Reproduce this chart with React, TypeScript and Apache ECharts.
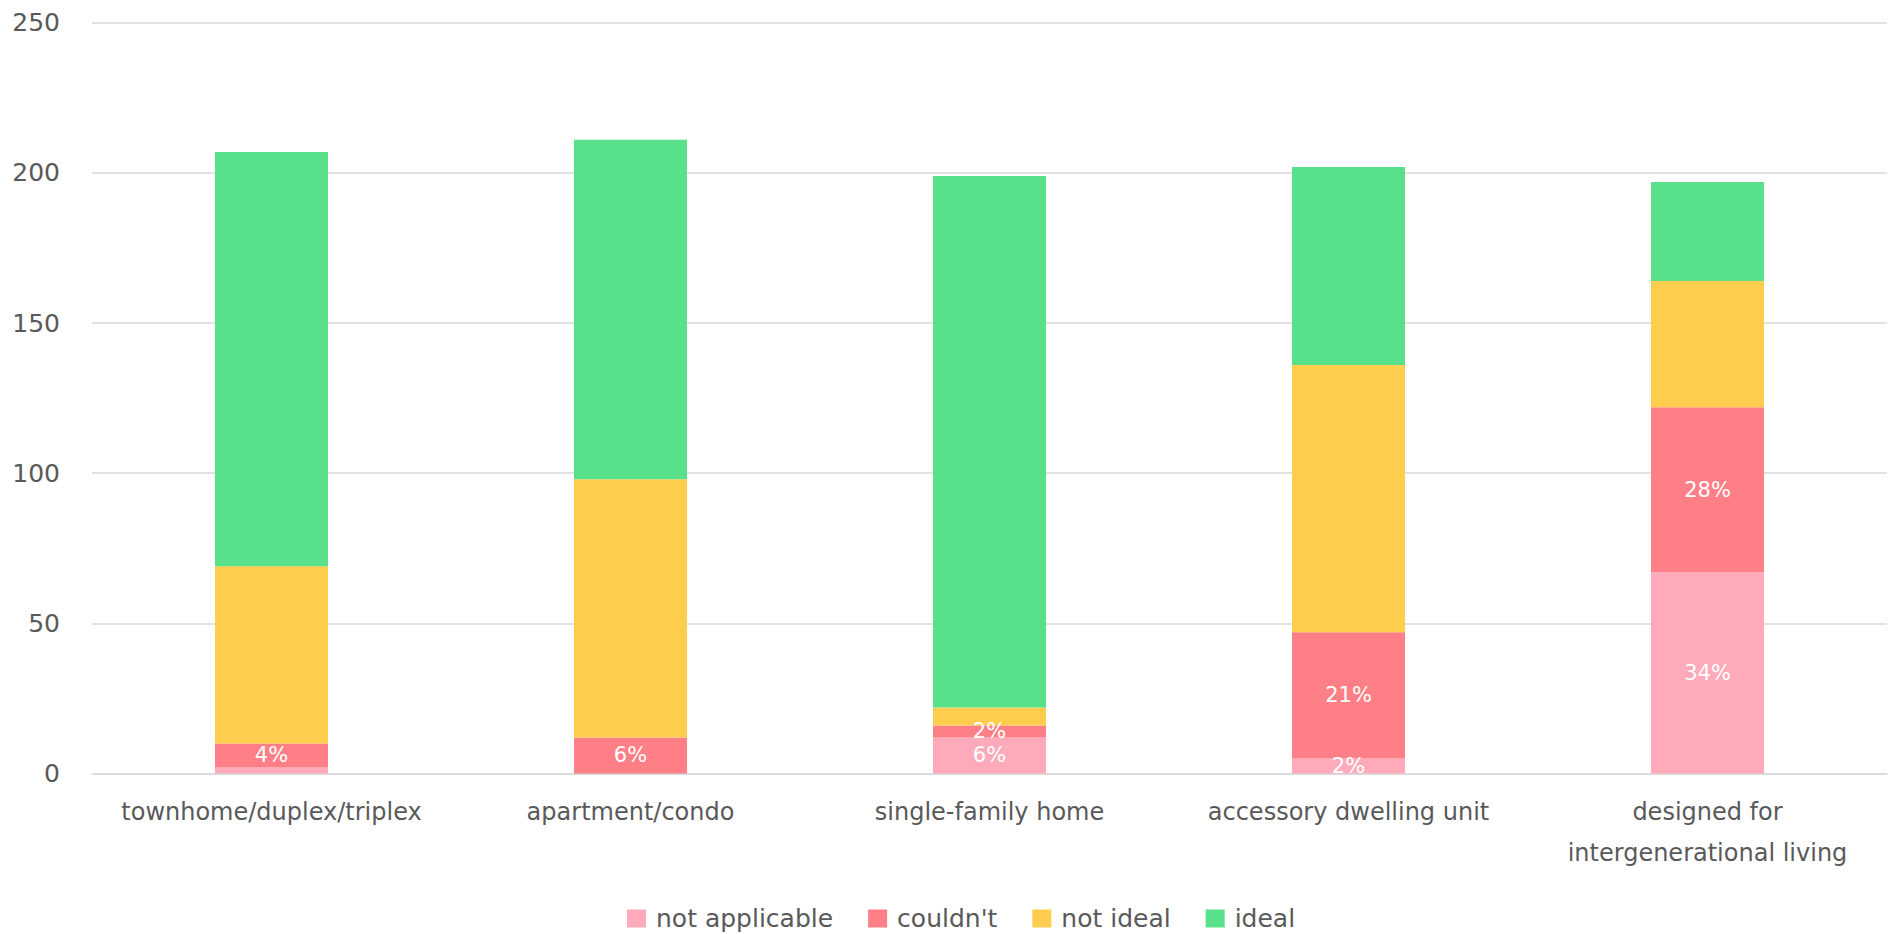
import React, { useEffect, useRef } from "react";
import * as echarts from "echarts";

const categories = [
  "townhome/duplex/triplex",
  "apartment/condo",
  "single-family home",
  "accessory dwelling unit",
  "designed for\nintergenerational living",
];
const seriesNames = ["not applicable", "couldn't", "not ideal", "ideal"];
const notApplicable = [2, 0, 12, 5, 67];
const couldnt = [8, 12, 4, 42, 55];
const notIdeal = [59, 86, 6, 89, 42];
const ideal = [138, 113, 177, 66, 33];
const notApplicableLabels = ["", "", "6%", "2%", "34%"];
const couldntLabels = ["4%", "6%", "2%", "21%", "28%"];
const yTicks = { min: 0, max: 250, interval: 50 };

const colors = ["#FFAABB", "#FF7F86", "#FFCD4E", "#59E08A"];
const FONT = "DejaVu Sans";
const TEXT = "#595959";

export default function App() {
  const ref = useRef<HTMLDivElement>(null);
  useEffect(() => {
    if (!ref.current) return;
    const chart = echarts.init(ref.current, null, { renderer: "svg" });
    const values = [notApplicable, couldnt, notIdeal, ideal];
    const labels: (string[] | null)[] = [notApplicableLabels, couldntLabels, null, null];
    chart.setOption({
      animation: false,
      color: colors,
      textStyle: { fontFamily: FONT },
      grid: { left: 92, right: 5, top: 22.75, bottom: 160.5, containLabel: false },
      legend: {
        data: seriesNames,
        left: 622,
        top: 901,
        padding: 5,
        itemWidth: 19,
        itemHeight: 18,
        itemGap: 35,
        icon: "rect",
        textStyle: { fontFamily: FONT, fontSize: 25, color: TEXT, lineHeight: 24, padding: [0, 0, 0, 5] },
      },
      xAxis: {
        type: "category",
        data: categories,
        axisTick: { show: false },
        axisLine: { lineStyle: { color: "#D9D9D9", width: 1.5 } },
        axisLabel: {
          color: TEXT,
          fontFamily: FONT,
          fontSize: 24,
          lineHeight: 41,
          margin: 18,
          interval: 0,
        },
      },
      yAxis: {
        type: "value",
        min: yTicks.min,
        max: yTicks.max,
        interval: yTicks.interval,
        axisLine: { show: false },
        axisTick: { show: false },
        splitLine: { lineStyle: { color: "#D9D9D9", width: 1.5 } },
        axisLabel: { color: TEXT, fontFamily: FONT, fontSize: 25, margin: 32 },
      },
      series: seriesNames.map((name, i) => ({
        name,
        type: "bar",
        stack: "total",
        barWidth: 113,
        data: values[i],
        itemStyle: { color: colors[i] },
        label: labels[i]
          ? {
              show: true,
              position: "inside",
              color: "#FFFFFF",
              fontFamily: FONT,
              fontSize: 21,
              formatter: (p: any) => (labels[i] as string[])[p.dataIndex],
            }
          : { show: false },
      })),
    });
    return () => chart.dispose();
  }, []);
  return (
    <div
      ref={ref}
      style={{ position: "absolute", left: 0, top: 0, width: 1892, height: 934 }}
    />
  );
}
